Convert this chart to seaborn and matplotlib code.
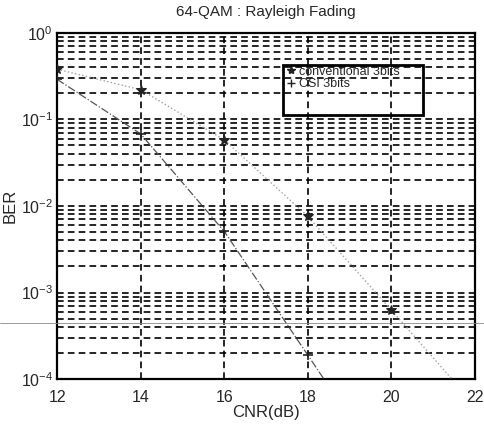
import matplotlib
matplotlib.use("Agg")
import matplotlib.pyplot as plt
import numpy as np
import pandas as pd
import seaborn as sns
from matplotlib.lines import Line2D
from matplotlib.patches import Rectangle

# values
cnr_conv = [12, 14, 16, 18, 20, 22]
ber_conv = [0.38, 0.22, 0.058, 0.0076, 6.3e-4, 5e-5]
cnr_csi = [12, 14, 16, 18, 20]
ber_csi = [0.29, 0.068, 0.0051, 1.9e-4, 7e-6]
labels = ["conventional 3bits", "CSI 3bits"]
x_ticks = [12, 14, 16, 18, 20, 22]
y_ticks = [1e0, 1e-1, 1e-2, 1e-3, 1e-4]
y_tick_labels = [r"$10^{0}$", r"$10^{-1}$", r"$10^{-2}$", r"$10^{-3}$", r"$10^{-4}$"]

sns.set_style("white")
plt.rcParams["font.family"] = ["Liberation Sans", "DejaVu Sans"]
plt.rcParams["mathtext.fontset"] = "custom"
plt.rcParams["mathtext.rm"] = "Liberation Sans"
plt.rcParams["mathtext.it"] = "Liberation Sans"

conv = pd.DataFrame({"cnr": cnr_conv, "ber": ber_conv})
csi = pd.DataFrame({"cnr": cnr_csi, "ber": ber_csi})

fig = plt.figure(figsize=(4.84, 4.26), dpi=100)
ax = fig.add_axes([0.118, 0.110, 0.863, 0.813])
ax.set_yscale("log")

sns.lineplot(data=conv, x="cnr", y="ber", ax=ax, color="#a0a0a0", linestyle=":",
             linewidth=1.0, marker="*", markersize=7, markerfacecolor="#222222",
             markeredgecolor="#222222", zorder=4)
sns.lineplot(data=csi, x="cnr", y="ber", ax=ax, color="#555555", linestyle="-.",
             linewidth=0.9, marker="+", markersize=7, markeredgecolor="#222222",
             markeredgewidth=1.2, zorder=4)

ax.set_xlim(12, 22)
ax.set_ylim(1e-4, 1)
ax.set_xticks(x_ticks)
ax.set_yticks(y_ticks)
ax.set_yticklabels(y_tick_labels)
ax.yaxis.set_minor_locator(matplotlib.ticker.LogLocator(base=10, subs=np.arange(2, 10)))
ax.yaxis.set_minor_formatter(matplotlib.ticker.NullFormatter())
ax.grid(True, which="major", axis="both", color="black", linestyle=(0, (4, 2.5)), linewidth=1.2)
ax.grid(True, which="minor", axis="y", color="black", linestyle=(0, (4, 2.5)), linewidth=1.2)
ax.tick_params(axis="both", which="both", direction="in", length=0, labelsize=11.5, pad=3)
ax.tick_params(axis="x", pad=8)
for s in ax.spines.values():
    s.set_linewidth(1.6)
    s.set_color("black")

ax.set_title("64-QAM : Rayleigh Fading", fontsize=11, pad=12)
ax.set_xlabel("CNR(dB)", fontsize=12, labelpad=0)
ax.set_ylabel("BER", fontsize=12, labelpad=2)

# legend: markers only, inside a tall hand-drawn box
handles = [
    Line2D([], [], linestyle="none", marker="*", color="#222222", markersize=6),
    Line2D([], [], linestyle="none", marker="+", color="#222222", markersize=6),
]
ax.legend(handles, labels, loc="upper left", bbox_to_anchor=(0.535, 0.92),
          frameon=False, fontsize=9, handlelength=0.8, handletextpad=0.3,
          labelspacing=0.05, borderaxespad=0)
ax.add_patch(Rectangle((0.54, 0.763), 0.336, 0.144, transform=ax.transAxes,
                       fill=False, edgecolor="black", linewidth=2.0, zorder=6))

# thin scan artifact running across the page
fig.add_artist(Line2D([0, 1], [1 - 323 / 426] * 2, color="#888888", linewidth=0.6))

fig.savefig("out.png", dpi=100)
